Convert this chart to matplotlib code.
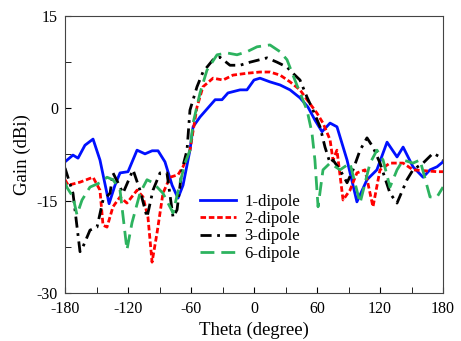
"""
    gain vs theta for dipole arrays
"""

import numpy as np
import matplotlib.pyplot as plt
from matplotlib.ticker import MultipleLocator

plt.rcParams['font.family'] = ['Liberation Serif', 'DejaVu Serif']
plt.rcParams['axes.unicode_minus'] = False

# 1-dipole
theta1 = [-180, -172.4, -167.6, -161, -153.3, -146.7, -138, -132.4, -127.6, -120, -111.4, -103.8,
          -97, -91.4, -84.8, -78, -72.4, -67.6, -61, -58, -51.4, -37, -30.5, -24.8, -13.3, -6.7,
          0, 5.7, 15.2, 24.8, 34.3, 43.8, 51.4, 58, 64.8, 72.4, 79, 88.6, 98, 107.6, 117, 126.7,
          136.2, 142, 151.4, 161, 167.6, 174.3, 180]
gain1 = [-8.7, -7.6, -8.1, -6.0, -5.0, -8.4, -15.5, -12.5, -10.5, -10.3, -6.8, -7.4,
         -6.9, -6.9, -8.7, -12.5, -14.6, -12.5, -6.8, -3.0, -1.4, 1.4, 1.4, 2.5, 3.0, 3.0,
         4.6, 4.9, 4.3, 3.8, 3.0, 1.7, 0.2, -1.9, -3.8, -2.4, -3.0, -8.4, -15.2, -11.6, -10, -5.5,
         -7.9, -6.3, -9.5, -11.2, -10, -9.5, -8.7]

# 2-dipole
theta2 = [-180, -177, -165.7, -153.3, -146.7, -143.8, -140, -134.3, -127.6, -121, -111.4, -105.7,
          -101, -97.1, -92.4, -86.7, -80, -72.4, -67.6, -61, -54.3, -48.6, -39, -29.5, -20, -6.7,
          5.7, 15.2, 24.8, 34.3, 43.8, 50.5, 60, 65.7, 72.4, 75.2, 79, 84.8, 91.4, 98, 105.7,
          113.3, 120, 129.5, 142, 151.4, 174.3, 180]
gain2 = [-11.6, -12.5, -12, -11.2, -13.3, -19, -19.3, -16, -14.4, -15.4, -13.3, -14.4,
         -17.7, -25, -20.3, -13.8, -11.2, -10.8, -9.5, -6.8, 0.2, 3.5, 4.9, 4.6, 5.4, 5.7,
         5.9, 5.9, 5.4, 4.3, 3.0, 1.4, -0.8, -2.4, -5.1, -8.4, -6.8, -14.9, -13.3, -10.5, -10,
         -16, -10, -8.9, -8.9, -10, -10.3, -10.3]

# 3-dipole
theta3 = [-180, -172.4, -165.7, -162.9, -156.2, -149.5, -143.8, -137.1, -134.3, -129.5, -124.8,
          -115.2, -108.6, -101.9, -96.2, -89.5, -82.9, -77.1, -73.3, -68.6, -63.8, -61, -54.3,
          -48.6, -39, -32.4, -22.9, -13.3, -3.8, 12.4, 21.9, 31.4, 37.1, 43.8, 50.5, 56.2, 62.9,
          67.6, 72.4, 75.2, 81.9, 88.6, 94.3, 101, 107.6, 113.3, 120, 129.5, 136.2, 145.7, 151.4,
          161, 170.5, 177.1, 180]
gain3 = [-9.7, -13.8, -23.3, -22.5, -19.8, -19.3, -14.9, -13.8, -10.5, -12.1, -13.8,
         -10, -13.3, -17.7, -13.3, -10.5, -10.5, -17.7, -16.5, -10, -6.8, -0.3, 3.5,
         5.9, 7.9, 8.3, 7.0, 7.0, 7.5, 8.2, 7.5, 6.7, 5.7, 4.6, 1.8, -0.3, -3.0,
         -6.3, -8.9, -8.4, -10, -12.1, -10, -6.8, -4.8, -6.3, -8.9, -13.8, -15.4, -11.6, -10,
         -8.9, -7.3, -7.9, -8.4]

# 6-dipole
theta6 = [-180, -178, -172.4, -168.6, -163.8, -156.2, -146.7, -140, -134.3, -127.6, -121, -116.2,
          -108.6, -101.9, -96.2, -86.7, -77.1, -70.5, -65.7, -61, -58, -51.4, -44.8, -35.2, -25.7,
          -16.2, -6.7, 2.9, 15.2, 24.8, 31.4, 37.1, 43.8, 50.5, 55.2, 58, 61, 65.7, 72.4, 81.9,
          91.4, 101, 110.5, 117.1, 122.9, 129.5, 136.2, 142, 151.4, 158.1, 167.6, 174.3, 180]
gain6 = [-12, -12.9, -14.4, -17.3, -14.9, -12.8, -12.1, -11.2, -11.6, -13.3, -23, -18.6,
         -13.8, -11.6, -12.1, -13.8, -17, -12.1, -8.9, -6.8, -2.4, 2.5, 6.2, 8.7, 9.0,
         8.7, 9.2, 10, 10.3, 9.2, 7.9, 5.4, 2.5, -0.3, -4.0, -8.4, -16, -10, -8.9, -10,
         -8.9, -15.4, -8.9, -6.8, -8.4, -12.8, -10, -8.4, -8.9, -8.4, -14.4, -14.4, -12.8]

labels = ['1-dipole', '2-dipole', '3-dipole', '6-dipole']

fig = plt.figure(figsize=(4.61, 3.41), dpi=100)
ax = fig.add_axes([0.141, 0.141, 0.820, 0.812])

ax.plot(theta1, gain1, color='#0010ff', lw=2, label=labels[0])
ax.plot(theta2, gain2, color='#ff0000', lw=2, ls=(0, (2, 1)), label=labels[1])
ax.plot(theta3, gain3, color='black', lw=2, ls=(0, (4, 2, 1, 2)), label=labels[2])
ax.plot(theta6, gain6, color='#2db35f', lw=2, ls=(0, (5, 2.5)), label=labels[3])

ax.set_xlim(-180, 180)
ax.set_ylim(-30, 15)
ax.set_xticks(np.arange(-180, 181, 60))
ax.set_yticks(np.arange(-30, 16, 15))
ax.xaxis.set_minor_locator(MultipleLocator(30))
ax.yaxis.set_minor_locator(MultipleLocator(7.5))
ax.tick_params(which='both', direction='in', top=False, right=False, labelsize=11.5, length=4)
ax.tick_params(axis='x', which='major', pad=6)
ax.tick_params(axis='y', which='major', pad=5)
for s in ax.spines.values():
    s.set_color('#444444')

ax.set_xlabel('Theta (degree)', fontsize=13.5, labelpad=3)
ax.set_ylabel('Gain (dBi)', fontsize=13.5, labelpad=4)

ax.legend(loc='upper left', bbox_to_anchor=(0.325, 0.40), frameon=False, fontsize=12,
          handlelength=2.2, handletextpad=0.5, labelspacing=0.08, borderpad=0.2)

fig.savefig('out.png', dpi=100)
